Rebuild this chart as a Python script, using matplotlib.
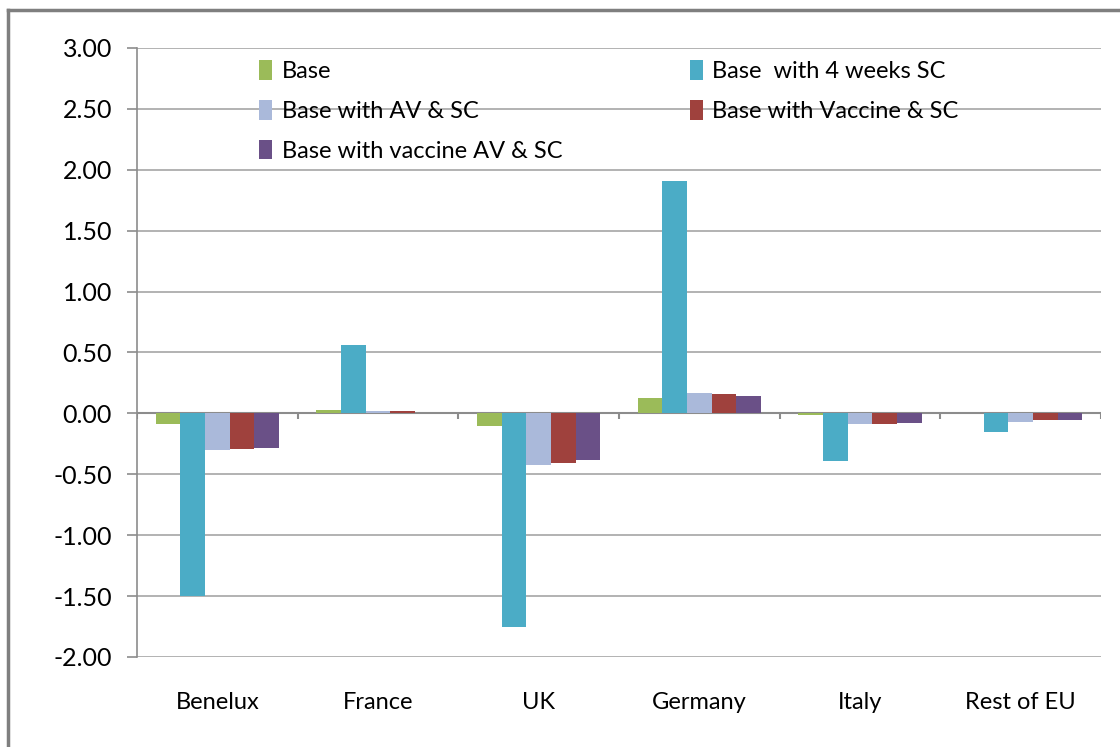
import matplotlib
matplotlib.use("Agg")
import matplotlib.pyplot as plt
from matplotlib.lines import Line2D
from matplotlib.patches import Patch
import numpy as np

plt.rcParams['font.family'] = ['Lato', 'DejaVu Sans']

regions = ["Benelux", "France", "UK", "Germany", "Italy", "Rest of EU"]
series_names = ["Base", "Base  with 4 weeks SC", "Base with AV & SC",
                "Base with Vaccine & SC", "Base with vaccine AV & SC"]
base = [-0.09, 0.03, -0.10, 0.13, -0.01, 0.00]
base_4wk_sc = [-1.50, 0.56, -1.75, 1.91, -0.39, -0.155]
base_av_sc = [-0.30, 0.02, -0.42, 0.17, -0.09, -0.07]
base_vacc_sc = [-0.29, 0.02, -0.41, 0.16, -0.09, -0.055]
base_vacc_av_sc = [-0.28, 0.00, -0.385, 0.14, -0.08, -0.055]
series = [base, base_4wk_sc, base_av_sc, base_vacc_sc, base_vacc_av_sc]
colors = ["#9BBB59", "#4BACC6", "#AAB9DA", "#9F413D", "#6A5087"]
yticks = [3.00, 2.50, 2.00, 1.50, 1.00, 0.50, 0.00, -0.50, -1.00, -1.50, -2.00]

W, H = 1120, 747
fig = plt.figure(figsize=(W / 100, H / 100), dpi=100)
ax = fig.add_axes([137 / W, 90 / H, (1101 - 137) / W, (657 - 48) / H])

x = np.arange(len(regions))
bw = 1 / 6.5
for i, (vals, col) in enumerate(zip(series, colors)):
    ax.bar(x + (i - 2) * bw, vals, width=bw, color=col, align="center",
           linewidth=0, zorder=3)

ax.set_xlim(-0.5, len(regions) - 0.5)
ax.set_ylim(-2.0, 3.0)
ax.set_yticks(yticks)
ax.set_yticklabels([f"{v:.2f}" for v in yticks])
ax.yaxis.grid(True, color="#A6A6A6", linewidth=1.2, zorder=0)
ax.set_axisbelow(True)

grey = "#8C8C8C"
for s in ["top", "right", "bottom"]:
    ax.spines[s].set_visible(False)
ax.spines["left"].set_color(grey)
ax.spines["left"].set_linewidth(1.2)
ax.tick_params(axis="y", length=7, width=1.2, color=grey, pad=11,
               labelsize=18, labelcolor="#000000")

# category axis crosses at zero, labels sit below the plot
ax.axhline(0, color=grey, linewidth=1.5, zorder=2)
bounds = np.arange(len(regions) + 1) - 0.5
ax.vlines(bounds, -0.045, 0, color=grey, linewidth=1.5, zorder=2)
ax.set_xticks(x)
ax.set_xticklabels(regions)
ax.tick_params(axis="x", length=0, pad=25.5, labelsize=17, labelcolor="#000000")

# legend in row order: Base | 4 weeks SC, AV & SC | Vaccine & SC, vaccine AV & SC
order = [0, 2, 4, 1, 3]
handles = [Patch(facecolor=colors[k], edgecolor="none") for k in order]
labels = [series_names[k] for k in order]
ax.legend(handles, labels, ncol=2, frameon=False, fontsize=17,
          loc="upper left", bbox_to_anchor=(0.117, 0.995),
          handlelength=0.55, handleheight=0.9, handletextpad=0.4,
          labelspacing=0.75, columnspacing=5.4, borderaxespad=0)

# outer chart frame (top and left edges)
fig.add_artist(Line2D([8 / W, 8 / W], [0, 1 - 10 / H], color="#7F7F7F",
                      linewidth=2.5, transform=fig.transFigure))
fig.add_artist(Line2D([8 / W, 1], [1 - 10 / H, 1 - 10 / H], color="#7F7F7F",
                      linewidth=2.5, transform=fig.transFigure))

fig.savefig("out.png", dpi=100)
